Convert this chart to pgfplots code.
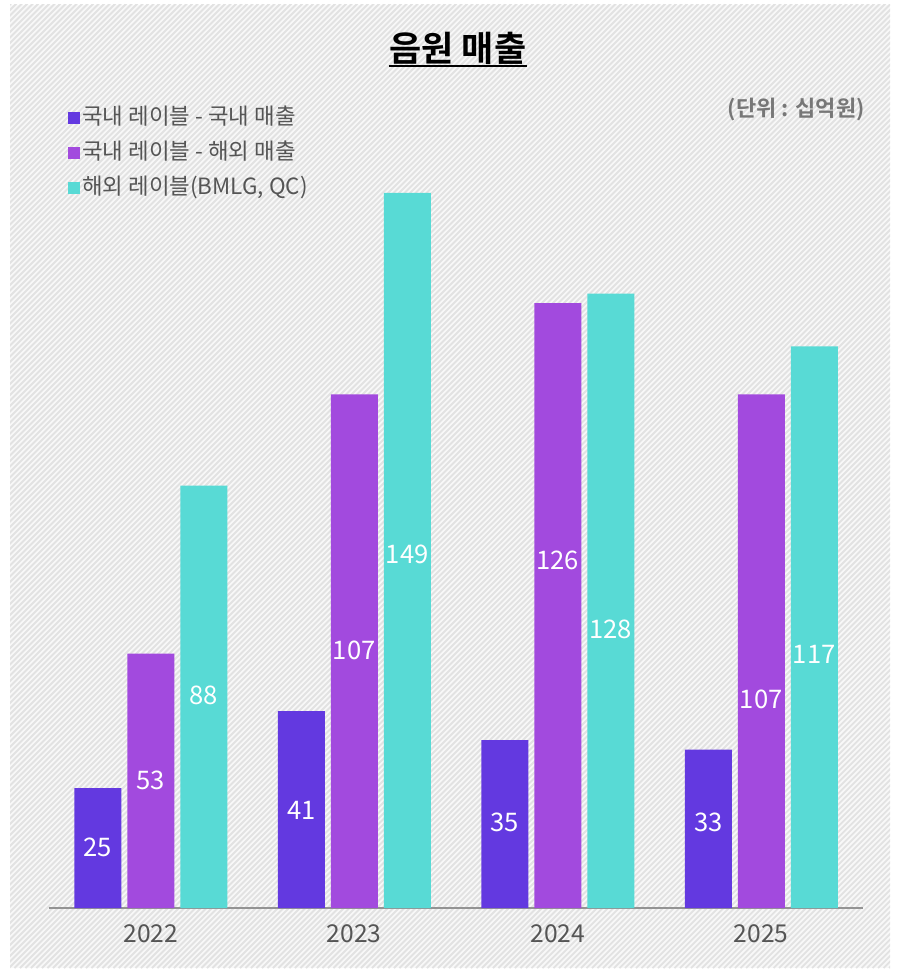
\documentclass[border=0pt]{standalone}
\usepackage{pgfplots}
\usepackage{pgfplotstable}
\pgfplotsset{compat=1.18}
\usepackage{fontspec}
\setmainfont{Noto Sans CJK KR}[BoldFont={Noto Sans CJK KR Bold}]
\definecolor{cA}{HTML}{6339E0}
\definecolor{cB}{HTML}{A24ADE}
\definecolor{cC}{HTML}{58DAD5}
\definecolor{ticktxt}{HTML}{555555}
\definecolor{unittxt}{HTML}{777777}
\definecolor{bgc}{HTML}{F8F8F8}
\definecolor{stripe}{HTML}{E2E2E2}
% x = year index, y = value, ly = height at which the value label sits
\pgfplotstableread{
x y ly
0 25 12.7
1 41 20.4
2 35 17.9
3 33 17.9
}\dataA
\pgfplotstableread{
x y ly
0 53 26.5
1 107 53.75
2 126 72.5
3 107 43.5
}\dataB
\pgfplotstableread{
x y ly
0 88 44.2
1 149 73.75
2 128 58.1
3 117 52.9
}\dataC
\begin{document}
\begin{tikzpicture}[x=1pt,y=1pt]
\fill[white] (0,0) rectangle (449,-486.5);
\begin{scope}
\clip (5,-2.5) rectangle (445,-484);
\fill[bgc] (5,-2.5) rectangle (445,-484);
\foreach \i in {-485,-482.25,...,446} \draw[line width=0.9pt, stripe] (\i,-484) -- ++(490,490);
\end{scope}
\node[anchor=base, inner sep=0pt, font=\bfseries\fontsize{17.5}{19}\selectfont] (T) at (229,-31) {음원 매출};
\draw[line width=1.25pt] (T.west |- 0,-33) -- (T.east |- 0,-33);
\node[anchor=east, inner sep=0pt, font=\bfseries\fontsize{11}{13}\selectfont, text=unittxt] at (432.5,-55) {(단위 : 십억원)};
\begin{axis}[
  at={(24.5pt,-454pt)}, anchor=south west,
  scale only axis, width=407pt, y=2.4pt,
  xmin=-0.5, xmax=3.5, ymin=0, ymax=160,
  ybar=3pt, bar width=23.5pt,
  axis x line*=bottom, axis y line=none,
  x axis line style={-, draw=gray!85, line width=0.75pt},
  xtick={0,1,2,3}, xticklabels={2022,2023,2024,2025},
  major tick length=0pt,
  xticklabel style={font=\fontsize{12.3}{14}\selectfont, text=ticktxt, yshift=-5pt},
  /pgf/number format/assume math mode=true,
  nodes near coords,
  visualization depends on={rawy \as \rawy},
  visualization depends on={\thisrow{ly} \as \ly},
  every node near coord/.append style={font=\fontsize{12.8}{14}\selectfont, text=white, anchor=center, yshift={2.4*(\ly-\rawy)}},
  legend style={at={(0.0233,1.0443)}, anchor=north west, draw=none, fill=none, inner sep=0pt,
    font=\fontsize{11.2}{13}\selectfont, text=ticktxt, row sep=5.5pt,
    nodes={inner sep=1pt, text height=8pt, text depth=2pt}},
  legend cell align=left,
  sqlegend/.style={legend image code/.code={\fill[##1, draw=none] (0pt,-3pt) rectangle (6pt,3pt);}},
]
\addplot[fill=cA, draw=none, sqlegend] table[x=x, y=y] {\dataA};
\addlegendentry{국내 레이블 - 국내 매출}
\addplot[fill=cB, draw=none, sqlegend] table[x=x, y=y] {\dataB};
\addlegendentry{국내 레이블 - 해외 매출}
\addplot[fill=cC, draw=none, sqlegend] table[x=x, y=y] {\dataC};
\addlegendentry{해외 레이블(BMLG, QC)}
\end{axis}
\end{tikzpicture}
\end{document}
